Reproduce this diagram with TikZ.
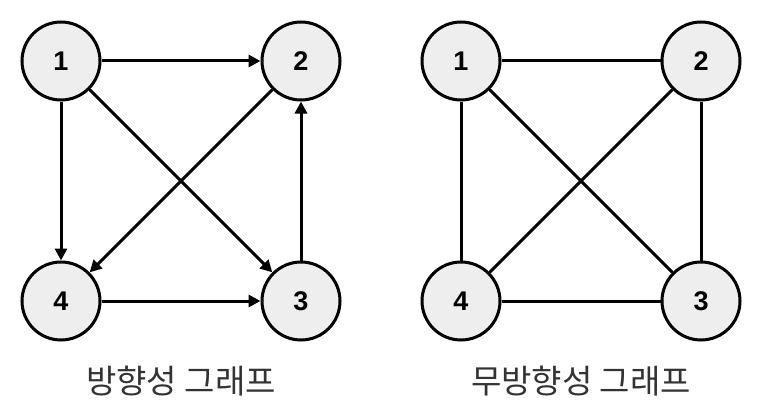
\documentclass[tikz,border=0pt]{standalone}
\usepackage{fontspec}
\setmainfont{Liberation Sans}
\newfontfamily\krfont{Noto Sans CJK KR}
\usetikzlibrary{arrows.meta}
\definecolor{nodefill}{HTML}{EEEEEE}
\definecolor{labelgray}{HTML}{333333}
\begin{document}
\begin{tikzpicture}[x=1pt,y=-1pt,
  vtx/.style={circle,draw=black,line width=3pt,fill=nodefill,minimum size=78pt,inner sep=0pt,font=\fontsize{27}{32}\selectfont\bfseries},
  edge/.style={draw=black,line width=3pt},
  arc/.style={edge,-{Triangle[length=12pt,width=12pt]}},
  captext/.style={font=\krfont\fontsize{33}{38}\selectfont,text=labelgray}]
\useasboundingbox (0,0) rectangle (763,420);
% directed graph
\node[vtx] (a1) at (61,61) {1};
\node[vtx] (a2) at (301,61) {2};
\node[vtx] (a3) at (301,301) {3};
\node[vtx] (a4) at (61,301) {4};
\draw[arc] (a1) -- (a2);
\draw[arc] (a1) -- (a4);
\draw[arc] (a1) -- (a3);
\draw[arc] (a2) -- (a4);
\draw[arc] (a3) -- (a2);
\draw[arc] (a4) -- (a3);
\node[captext] (l1) at (181,381) {방향성 그래프};
% undirected graph
\node[vtx] (b1) at (461,61) {1};
\node[vtx] (b2) at (701,61) {2};
\node[vtx] (b3) at (701,301) {3};
\node[vtx] (b4) at (461,301) {4};
\draw[edge] (b1) -- (b2);
\draw[edge] (b1) -- (b4);
\draw[edge] (b1) -- (b3);
\draw[edge] (b2) -- (b4);
\draw[edge] (b2) -- (b3);
\draw[edge] (b4) -- (b3);
\node[captext] (l2) at (581,381) {무방향성 그래프};
\end{tikzpicture}
\end{document}
